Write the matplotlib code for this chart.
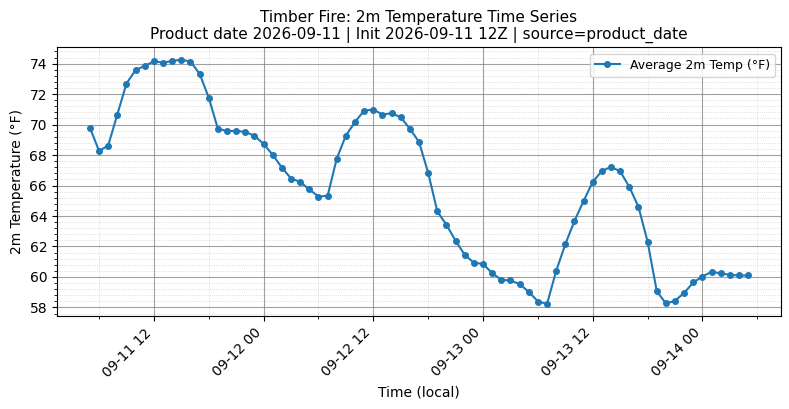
import matplotlib
matplotlib.use("Agg")
import matplotlib.pyplot as plt
import matplotlib.dates as mdates
from matplotlib.ticker import AutoMinorLocator
import pandas as pd

start_time = "2026-09-11 05:00"
temps_f = [
    # 09-11 05..23
    69.80, 68.27, 68.62, 70.66, 72.69, 73.58, 73.85, 74.15, 74.07, 74.17,
    74.26, 74.13, 73.34, 71.77, 69.72, 69.58, 69.58, 69.52, 69.26,
    # 09-12 00..23
    68.73, 68.01, 67.18, 66.46, 66.24, 65.74, 65.28, 65.32, 67.77, 69.28,
    70.17, 70.92, 70.98, 70.66, 70.74, 70.48, 69.72, 68.86, 66.83, 64.30,
    63.42, 62.37, 61.45, 60.93,
    # 09-13 00..23
    60.86, 60.25, 59.81, 59.77, 59.53, 59.03, 58.39, 58.24, 60.40, 62.15,
    63.68, 64.99, 66.24, 66.96, 67.22, 66.93, 65.91, 64.60, 62.31, 59.07,
    58.26, 58.44, 58.96, 59.64,
    # 09-14 00..05
    60.03, 60.34, 60.23, 60.14, 60.10, 60.10,
]
times = pd.date_range(start_time, periods=len(temps_f), freq="h")

title = ("Timber Fire: 2m Temperature Time Series\n"
         "Product date 2026-09-11 | Init 2026-09-11 12Z | source=product_date")
series_label = "Average 2m Temp (°F)"

fig, ax = plt.subplots(figsize=(7.89, 4.09), dpi=100)
fig.subplots_adjust(left=0.0722, right=0.99, top=0.884, bottom=0.2274)

ax.plot(times, temps_f, marker="o", markersize=4, linewidth=1.5,
        color="#1f77b4", label=series_label)

ax.set_title(title, fontsize=11)
ax.set_xlabel("Time (local)", fontsize=10)
ax.set_ylabel("2m Temperature (°F)", fontsize=10)

ax.xaxis.set_major_locator(mdates.HourLocator(byhour=[0, 12]))
ax.xaxis.set_minor_locator(mdates.HourLocator(byhour=[6, 18]))
ax.xaxis.set_major_formatter(mdates.DateFormatter("%m-%d %H"))
ax.yaxis.set_minor_locator(AutoMinorLocator(5))
plt.setp(ax.get_xticklabels(), rotation=45, ha="right")

ax.grid(which="major", color="gray", alpha=0.75, linewidth=0.8)
ax.grid(which="minor", color="gray", linestyle=":", alpha=0.35, linewidth=0.6)
ax.set_axisbelow(True)

ax.legend(loc="upper right", fontsize=9)

fig.savefig("out.png", dpi=100)
